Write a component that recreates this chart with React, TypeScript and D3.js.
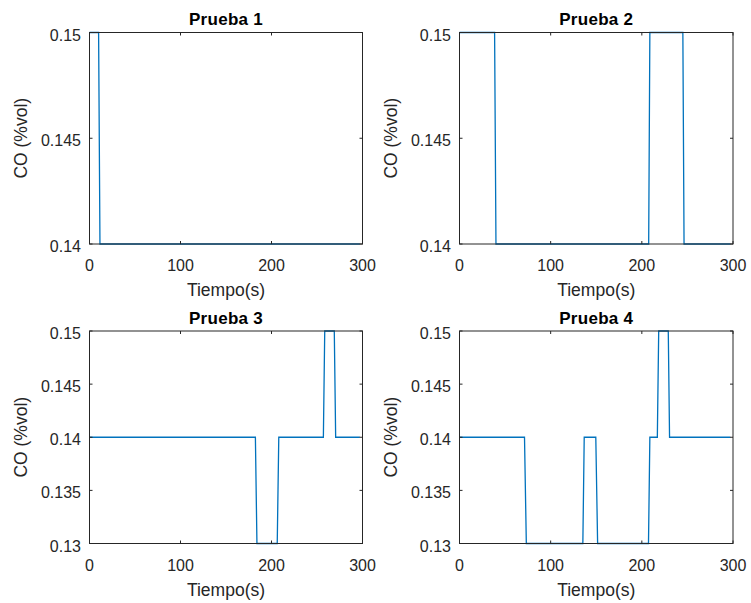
import React from "react";
import * as d3 from "d3";

const titles = ["Prueba 1", "Prueba 2", "Prueba 3", "Prueba 4"];
const xLabel = "Tiempo(s)";
const yLabel = "CO (%vol)";
const xTicks = [0, 100, 200, 300];
const yTicksTop = [0.14, 0.145, 0.15];
const yTicksBottom = [0.13, 0.135, 0.14, 0.145, 0.15];

// [time, value] samples for each test
const prueba1: [number, number][] = [
  [0, 0.15], [10, 0.15], [11.5, 0.14], [297, 0.14],
];
const prueba2: [number, number][] = [
  [0, 0.15], [38.5, 0.15], [40, 0.14], [207.5, 0.14], [208.8, 0.15],
  [245, 0.15], [246.3, 0.14], [297, 0.14],
];
const prueba3: [number, number][] = [
  [0, 0.14], [182.3, 0.14], [184, 0.13], [206.3, 0.13], [208, 0.14],
  [257, 0.14], [258.5, 0.15], [269, 0.15], [270.5, 0.14], [297, 0.14],
];
const prueba4: [number, number][] = [
  [0, 0.14], [71.3, 0.14], [73.3, 0.13], [135.3, 0.13], [136.8, 0.14],
  [149.5, 0.14], [151.5, 0.13], [207.3, 0.13], [208.8, 0.14], [217, 0.14],
  [218.5, 0.15], [229, 0.15], [230.4, 0.14], [297, 0.14],
];

const series = [prueba1, prueba2, prueba3, prueba4];
const yDomains: [number, number][] = [[0.14, 0.15], [0.14, 0.15], [0.13, 0.15], [0.13, 0.15]];
const yTickSets = [yTicksTop, yTicksTop, yTicksBottom, yTicksBottom];

const panels = [
  { x0: 89.5, x1: 362.5, y0: 32.5, y1: 244 },
  { x0: 459.5, x1: 733, y0: 32.5, y1: 244 },
  { x0: 89.5, x1: 362.5, y0: 331, y1: 543.5 },
  { x0: 459.5, x1: 733, y0: 331, y1: 543.5 },
];

const font = "'Liberation Sans', Arial, Helvetica, sans-serif";
const axisColor = "#262626";
const lineColor = "#0072BD";

function fmt(v: number) {
  return String(+v.toFixed(3));
}

function Panel({ i }: { i: number }) {
  const p = panels[i];
  const x = d3.scaleLinear().domain([0, 300]).range([p.x0, p.x1]);
  const y = d3.scaleLinear().domain(yDomains[i]).range([p.y1, p.y0]);
  const line = d3
    .line<[number, number]>()
    .x((d) => x(d[0]))
    .y((d) => y(d[1]));
  const tl = 3;
  return (
    <g>
      <rect x={p.x0} y={p.y0} width={p.x1 - p.x0} height={p.y1 - p.y0} fill="#fff" />
      <path d={line(series[i]) || ""} fill="none" stroke={lineColor} strokeWidth={1.3} />
      <rect x={p.x0} y={p.y0} width={p.x1 - p.x0} height={p.y1 - p.y0} fill="none" stroke={axisColor} strokeWidth={1} />
      {xTicks.map((t) => (
        <g key={"x" + t}>
          <line x1={x(t)} x2={x(t)} y1={p.y1} y2={p.y1 - tl} stroke={axisColor} />
          <line x1={x(t)} x2={x(t)} y1={p.y0} y2={p.y0 + tl} stroke={axisColor} />
          <text x={x(t)} y={p.y1 + 27} textAnchor="middle" fontSize={16} fill={axisColor} fontFamily={font}>
            {t}
          </text>
        </g>
      ))}
      {yTickSets[i].map((t) => (
        <g key={"y" + t}>
          <line x1={p.x0} x2={p.x0 + tl} y1={y(t)} y2={y(t)} stroke={axisColor} />
          <line x1={p.x1} x2={p.x1 - tl} y1={y(t)} y2={y(t)} stroke={axisColor} />
          <text x={p.x0 - 8.5} y={y(t) + 8} textAnchor="end" fontSize={16} fill={axisColor} fontFamily={font}>
            {fmt(t)}
          </text>
        </g>
      ))}
      <text x={(p.x0 + p.x1) / 2} y={p.y0 - 7.5} textAnchor="middle" fontSize={17} fontWeight="bold" fill="#000" fontFamily={font} letterSpacing={0.3}>
        {titles[i]}
      </text>
      <text x={(p.x0 + p.x1) / 2} y={p.y1 + 52} textAnchor="middle" fontSize={17.5} fill={axisColor} fontFamily={font}>
        {xLabel}
      </text>
      <text
        transform={`translate(${p.x0 - 62.5},${(p.y0 + p.y1) / 2}) rotate(-90)`}
        textAnchor="middle"
        fontSize={17.5}
        fill={axisColor}
        fontFamily={font}
      >
        {yLabel}
      </text>
    </g>
  );
}

export default function App() {
  return (
    <svg width={751} height={603} style={{ position: "absolute", left: 0, top: 0, background: "#fff" }}>
      <rect x={0} y={0} width={751} height={603} fill="#fff" />
      {[0, 1, 2, 3].map((i) => (
        <Panel key={i} i={i} />
      ))}
    </svg>
  );
}
